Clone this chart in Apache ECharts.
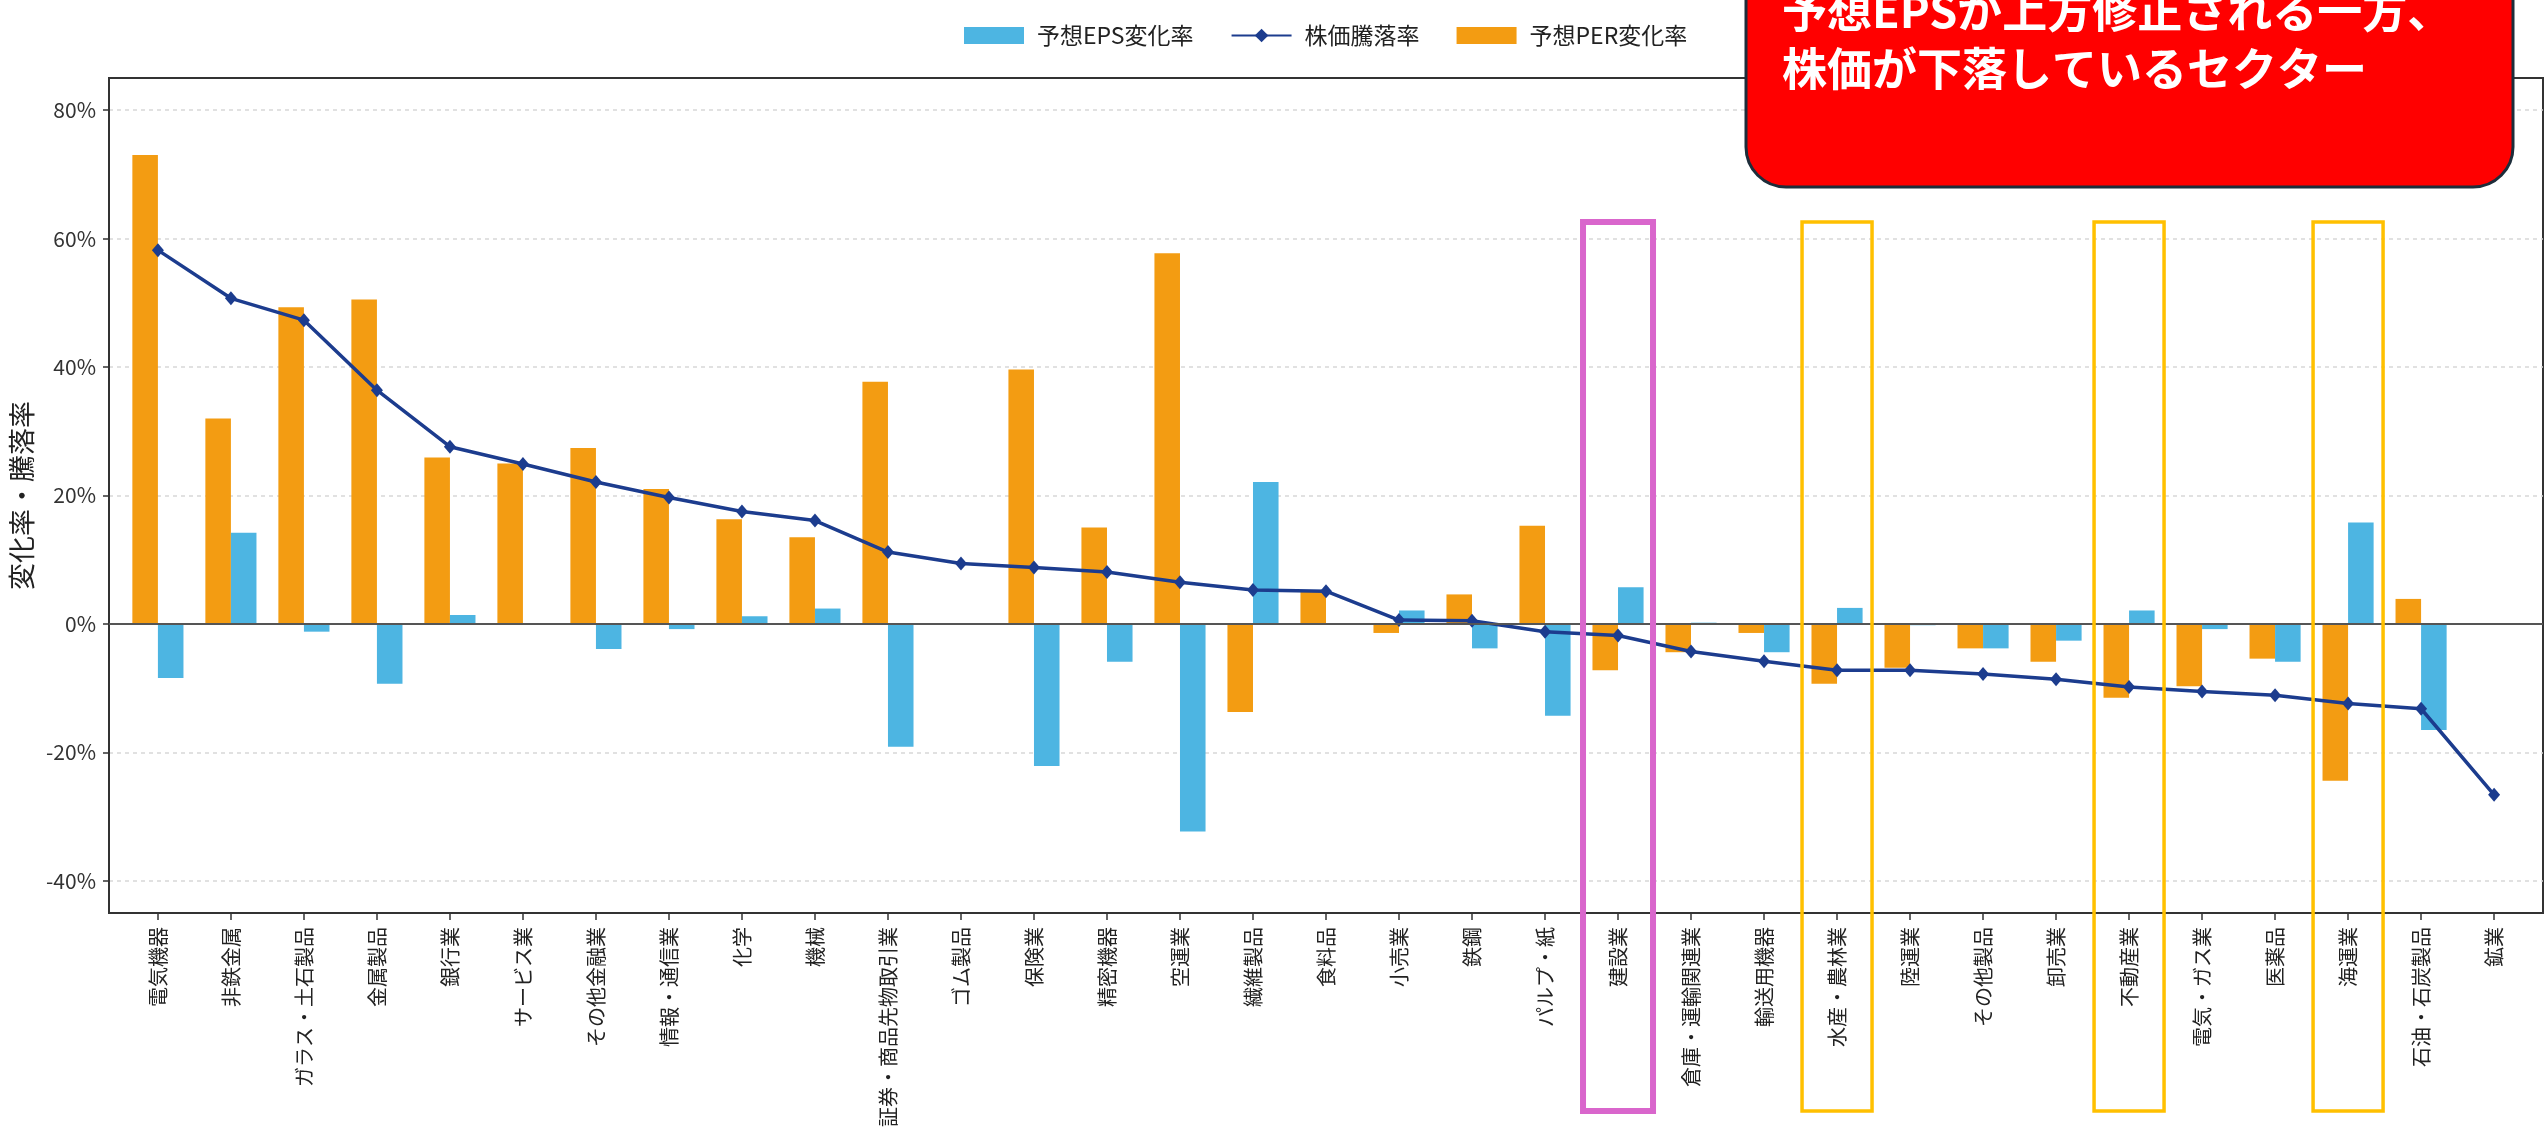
<!DOCTYPE html>
<html>
<head>
<meta charset="utf-8">
<title>業種別 予想EPS変化率・株価騰落率・予想PER変化率</title>
<script src="https://cdn.jsdelivr.net/npm/echarts@6/dist/echarts.min.js"></script>
<style>
  html, body { margin: 0; padding: 0; background: #fff; }
  #chart { width: 2547px; height: 1140px; }
</style>
</head>
<body>
<div id="chart"></div>
<script>
// 業種（株価騰落率の高い順）
const sectors = [
  "電気機器", "非鉄金属", "ガラス・土石製品", "金属製品", "銀行業", "サービス業",
  "その他金融業", "情報・通信業", "化学", "機械", "証券・商品先物取引業", "ゴム製品",
  "保険業", "精密機器", "空運業", "繊維製品", "食料品", "小売業", "鉄鋼", "パルプ・紙",
  "建設業", "倉庫・運輸関連業", "輸送用機器", "水産・農林業", "陸運業", "その他製品",
  "卸売業", "不動産業", "電気・ガス業", "医薬品", "海運業", "石油・石炭製品", "鉱業"
];

// 予想PER変化率 (%)
const perChange = [
  73.0, 32.0, 49.3, 50.5, 25.9, 25.0, 27.4, 21.0, 16.3, 13.5, 37.7, 0,
  39.6, 15.0, 57.7, -13.7, 5.2, -1.4, 4.6, 15.3, -7.2, -4.4, -1.4, -9.3,
  -6.8, -3.8, -5.9, -11.5, -9.7, -5.4, -24.4, 3.9, null
];

// 予想EPS変化率 (%)
const epsChange = [
  -8.4, 14.2, -1.2, -9.3, 1.4, 0, -3.9, -0.8, 1.2, 2.4, -19.1, 0,
  -22.1, -5.9, -32.3, 22.1, 0, 2.1, -3.8, -14.3, 5.7, 0.2, -4.4, 2.5,
  -0.2, -3.8, -2.6, 2.1, -0.8, -5.9, 15.8, -16.5, null
];

// 株価騰落率 (%)
const priceChange = [
  58.2, 50.7, 47.3, 36.4, 27.6, 24.9, 22.1, 19.7, 17.5, 16.1, 11.2, 9.4,
  8.8, 8.1, 6.5, 5.3, 5.1, 0.6, 0.5, -1.2, -1.8, -4.3, -5.8, -7.2,
  -7.2, -7.8, -8.6, -9.8, -10.5, -11.1, -12.4, -13.2, -26.6
];

const yTicks = [-40, -20, 0, 20, 40, 60, 80];

// 囲み枠
const focusSector = "建設業";
const markedSectors = ["水産・農林業", "不動産業", "海運業"];
const calloutLines = ["予想EPSが上方修正される一方、", "株価が下落しているセクター"];

const FONT = '"Noto Sans CJK JP", "Noto Sans", sans-serif';
const X_PAD = 0.67;

const chart = echarts.init(document.getElementById("chart"));

const toPairs = arr => arr.map((v, i) => [i, v]);
const xTicks = sectors.map((_, i) => i);

const option = {
  animation: false,
  textStyle: { fontFamily: FONT },
  legend: {
    data: [
      { name: "予想EPS変化率", icon: "rect" },
      { name: "株価騰落率" },
      { name: "予想PER変化率", icon: "rect" }
    ],
    left: 959,
    top: 19,
    itemWidth: 60,
    itemHeight: 17,
    itemGap: 37,
    textStyle: { fontSize: 23, color: "#222", fontFamily: FONT, padding: [0, 0, 0, 8] }
  },
  grid: {
    left: 109,
    right: 4,
    top: 78,
    bottom: 227,
    show: true,
    borderColor: "#333",
    borderWidth: 2,
    backgroundColor: "transparent"
  },
  xAxis: {
    type: "value",
    min: -X_PAD,
    max: sectors.length - 1 + X_PAD,
    splitLine: { show: false },
    axisLine: { show: true, onZero: false, lineStyle: { color: "#333", width: 2 } },
    axisTick: { show: true, customValues: xTicks, length: 7, lineStyle: { color: "#333", width: 1.5 } },
    axisLabel: {
      customValues: xTicks,
      rotate: 90,
      margin: 14,
      fontSize: 20,
      color: "#222",
      fontFamily: FONT,
      formatter: v => sectors[v] || ""
    }
  },
  yAxis: {
    type: "value",
    min: -45,
    max: 85,
    name: "変化率・騰落率",
    nameLocation: "middle",
    nameRotate: 90,
    nameGap: 67,
    nameTextStyle: { fontSize: 27, color: "#222", fontFamily: FONT },
    axisLine: { show: true, onZero: false, lineStyle: { color: "#333", width: 2 } },
    axisTick: { show: true, customValues: yTicks, length: 6, lineStyle: { color: "#333", width: 1.5 } },
    axisLabel: {
      customValues: yTicks,
      margin: 13,
      fontSize: 21,
      color: "#333",
      fontFamily: FONT,
      formatter: v => v + "%"
    },
    splitLine: { show: true, lineStyle: { color: "#d8d8d8", width: 1.5, type: [4, 4] } }
  },
  series: [
    {
      name: "予想PER変化率",
      type: "bar",
      data: toPairs(perChange),
      barWidth: "35%",
      barGap: "0%",
      itemStyle: { color: "#f39c12" }
    },
    {
      name: "予想EPS変化率",
      type: "bar",
      data: toPairs(epsChange),
      barWidth: "35%",
      barGap: "0%",
      itemStyle: { color: "#4db5e2" }
    },
    {
      name: "株価騰落率",
      type: "line",
      z: 4,
      data: toPairs(priceChange),
      symbol: "diamond",
      symbolSize: [12, 14],
      lineStyle: { color: "#1c3c8e", width: 3.5 },
      itemStyle: { color: "#1c3c8e" },
      markLine: {
        silent: true,
        symbol: "none",
        label: { show: false },
        lineStyle: { color: "#555", width: 2, type: "solid" },
        data: [{ yAxis: 0 }]
      }
    }
  ]
};

chart.setOption(option);

// 囲み枠・吹き出し
const boxTop = 222, boxBottom = 1111, boxWidth = 70;
const frameFor = (name, color, lw) => {
  const cx = chart.convertToPixel({ xAxisIndex: 0, yAxisIndex: 0 }, [sectors.indexOf(name), 0])[0];
  return {
    type: "rect",
    z: 100,
    shape: { x: cx - boxWidth / 2, y: boxTop, width: boxWidth, height: boxBottom - boxTop },
    style: { fill: "none", stroke: color, lineWidth: lw }
  };
};

const graphics = [frameFor(focusSector, "#d966cc", 6)];
markedSectors.forEach(s => graphics.push(frameFor(s, "#ffc000", 3.5)));

graphics.push({
  type: "rect",
  z: 110,
  shape: { x: 1746, y: -60, width: 767, height: 247, r: 40 },
  style: { fill: "#ff0000", stroke: "#1d2d3a", lineWidth: 3 }
});
graphics.push({
  type: "text",
  z: 111,
  x: 1782,
  y: 40,
  style: {
    text: calloutLines.join("\n"),
    fill: "#fff",
    font: "bold 45px " + FONT,
    lineHeight: 58,
    verticalAlign: "middle"
  }
});

chart.setOption({ graphic: graphics });

window.addEventListener("resize", () => chart.resize());
</script>
</body>
</html>
